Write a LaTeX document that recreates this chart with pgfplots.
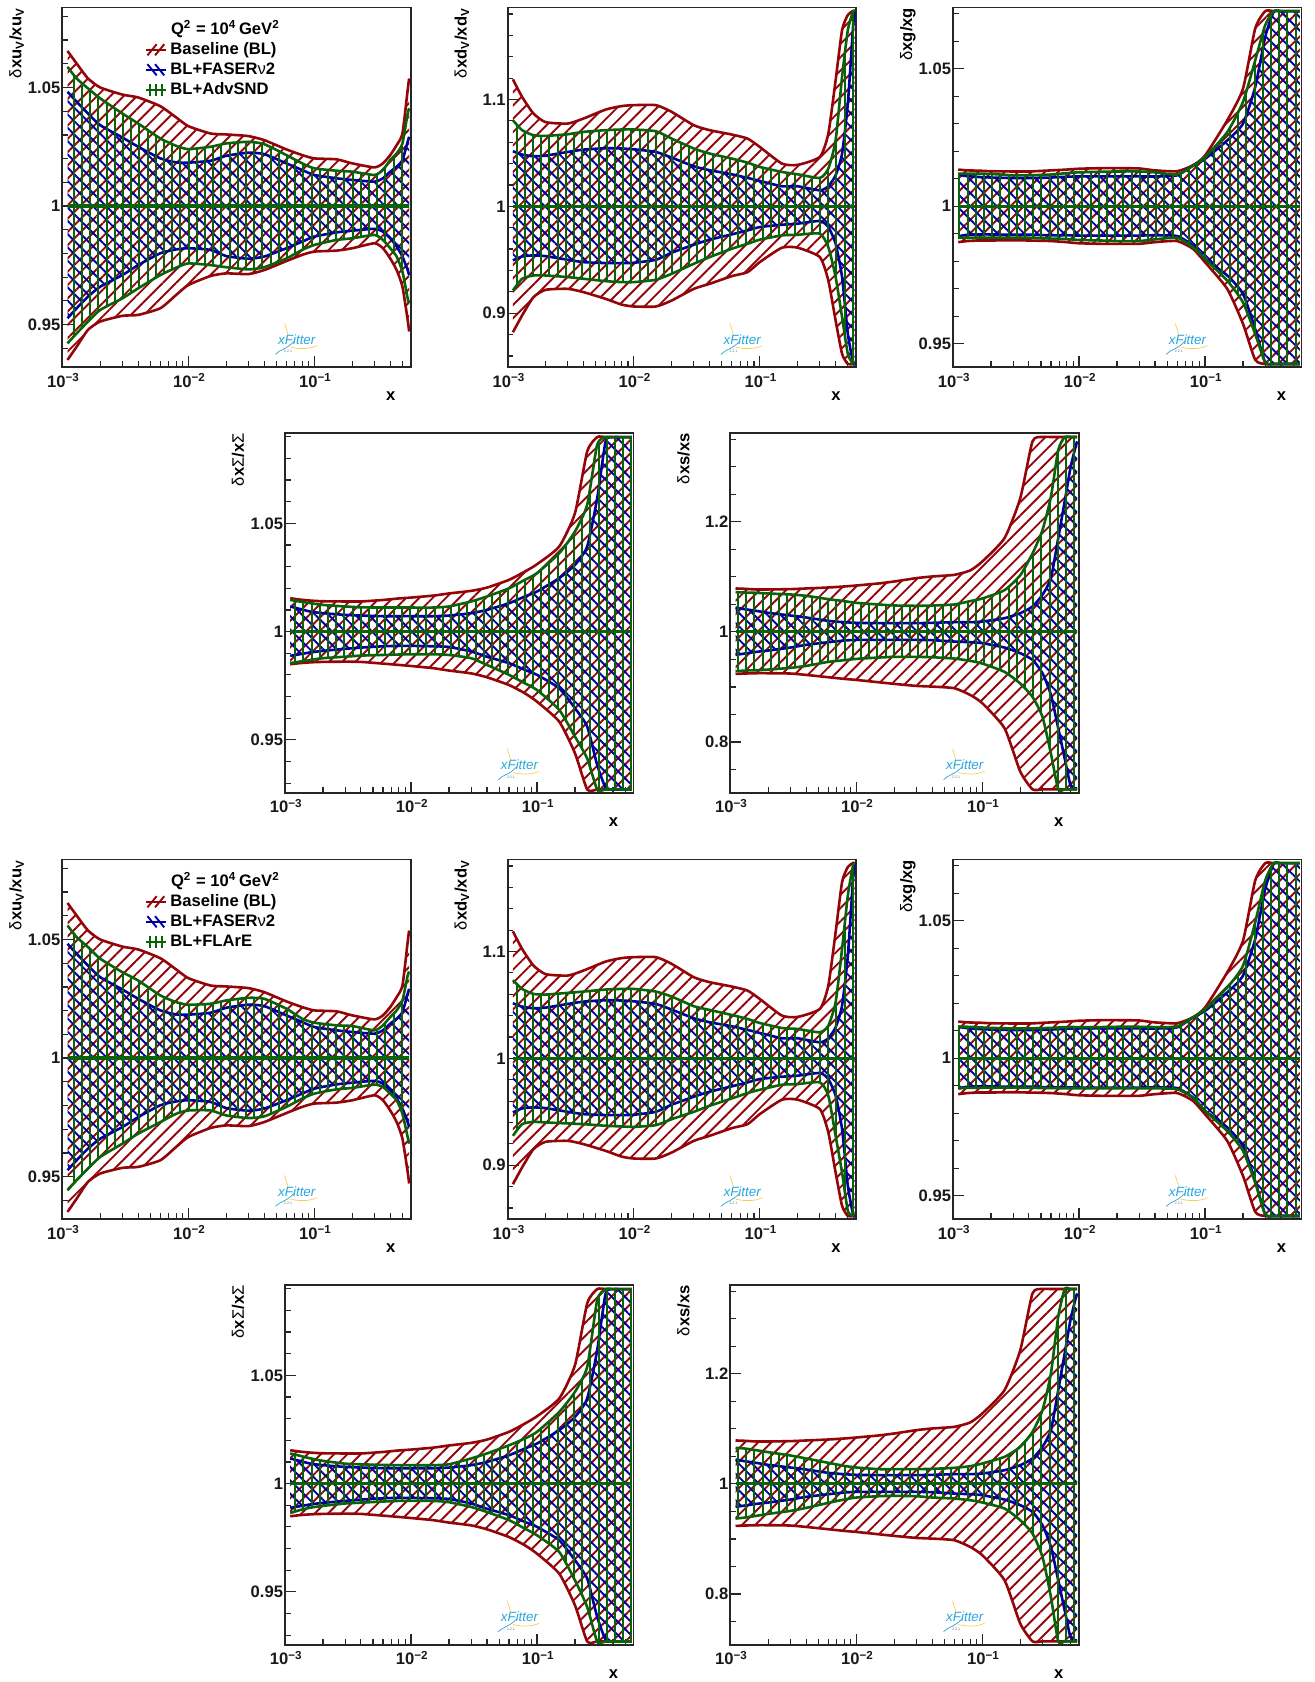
\documentclass[border=0pt]{standalone}
\usepackage{fontspec}
\setmainfont{Liberation Sans}
\usepackage{pgfplots}
\usepackage{pgfplotstable}
\pgfplotsset{compat=1.18}
\usetikzlibrary{patterns.meta}
\definecolor{cr}{rgb}{0.58,0.02,0.04}
\definecolor{cb}{rgb}{0.0,0.0,0.63}
\definecolor{cg}{rgb}{0.04,0.39,0.04}
\definecolor{clogo}{rgb}{0.16,0.65,0.87}
\definecolor{clogy}{rgb}{0.98,0.80,0.30}

\pgfplotstableread{
x ru rd bu bd gu gd fu fd
0.0011 1.0654 0.9351 1.0482 0.9527 1.0587 0.9421 1.0559 0.9442
0.0013 1.0601 0.9407 1.0440 0.9569 1.0538 0.9463 1.0510 0.9485
0.0016 1.0538 0.9478 1.0390 0.9618 1.0496 0.9513 1.0468 0.9534
0.002 1.0500 0.9513 1.0341 0.9660 1.0454 0.9562 1.0419 0.9583
0.003 1.0470 0.9537 1.0289 0.9709 1.0390 0.9611 1.0362 0.9639
0.004 1.0458 0.9541 1.0250 0.9751 1.0348 0.9653 1.0327 0.9681
0.006 1.0421 0.9569 1.0201 0.9801 1.0285 0.9709 1.0264 0.9730
0.008 1.0374 0.9625 1.0184 0.9817 1.0254 0.9740 1.0236 0.9765
0.01 1.0337 0.9667 1.0183 0.9822 1.0240 0.9758 1.0225 0.9779
0.015 1.0306 0.9705 1.0191 0.9815 1.0250 0.9751 1.0229 0.9779
0.02 1.0302 0.9716 1.0212 0.9789 1.0264 0.9742 1.0243 0.9758
0.03 1.0295 0.9713 1.0225 0.9778 1.0271 0.9733 1.0254 0.9747
0.04 1.0278 0.9730 1.0219 0.9787 1.0261 0.9742 1.0250 0.9754
0.06 1.0239 0.9768 1.0180 0.9822 1.0215 0.9779 1.0208 0.9794
0.08 1.0215 0.9794 1.0152 0.9850 1.0180 0.9815 1.0166 0.9829
0.1 1.0201 0.9808 1.0131 0.9871 1.0159 0.9836 1.0149 0.9850
0.15 1.0197 0.9812 1.0117 0.9889 1.0149 0.9857 1.0138 0.9868
0.2 1.0180 0.9822 1.0110 0.9896 1.0145 0.9864 1.0135 0.9874
0.3 1.0163 0.9843 1.0103 0.9904 1.0131 0.9878 1.0117 0.9888
0.35 1.0180 0.9822 1.0117 0.9892 1.0152 0.9857 1.0138 0.9878
0.4 1.0215 0.9779 1.0145 0.9864 1.0194 0.9822 1.0173 0.9850
0.45 1.0257 0.9730 1.0166 0.9829 1.0222 0.9787 1.0201 0.9822
0.5 1.0306 0.9660 1.0194 0.9787 1.0264 0.9723 1.0243 0.9765
0.55 1.0489 0.9520 1.0271 0.9730 1.0390 0.9611 1.0348 0.9667
0.565 1.0538 0.9471 1.0292 0.9709 1.0412 0.9590 1.0365 0.9639
}\tabA

\pgfplotstableread{
x ru rd bu bd gu gd fu fd
0.0011 1.1188 0.8822 1.0516 0.9494 1.0806 0.9213 1.0731 0.9275
0.0013 1.1025 0.8978 1.0484 0.9531 1.0713 0.9322 1.0650 0.9384
0.0016 1.0869 0.9150 1.0469 0.9541 1.0666 0.9353 1.0603 0.9406
0.002 1.0788 0.9219 1.0475 0.9534 1.0659 0.9353 1.0597 0.9400
0.003 1.0775 0.9228 1.0509 0.9500 1.0675 0.9338 1.0613 0.9391
0.004 1.0822 0.9197 1.0531 0.9478 1.0697 0.9322 1.0625 0.9384
0.006 1.0906 0.9134 1.0544 0.9469 1.0713 0.9300 1.0644 0.9369
0.008 1.0938 0.9081 1.0541 0.9469 1.0719 0.9291 1.0650 0.9363
0.01 1.0947 0.9063 1.0534 0.9472 1.0719 0.9291 1.0650 0.9359
0.015 1.0947 0.9063 1.0509 0.9500 1.0703 0.9313 1.0625 0.9375
0.02 1.0884 0.9119 1.0456 0.9566 1.0634 0.9369 1.0578 0.9431
0.03 1.0759 0.9228 1.0375 0.9641 1.0541 0.9463 1.0488 0.9500
0.04 1.0713 0.9275 1.0338 0.9688 1.0494 0.9525 1.0453 0.9556
0.06 1.0672 0.9347 1.0300 0.9738 1.0447 0.9603 1.0406 0.9625
0.08 1.0634 0.9384 1.0266 0.9775 1.0409 0.9650 1.0369 0.9675
0.1 1.0556 0.9478 1.0238 0.9806 1.0369 0.9688 1.0331 0.9706
0.15 1.0400 0.9613 1.0188 0.9828 1.0322 0.9728 1.0284 0.9753
0.2 1.0388 0.9613 1.0188 0.9838 1.0300 0.9734 1.0275 0.9759
0.3 1.0463 0.9525 1.0150 0.9863 1.0266 0.9744 1.0244 0.9775
0.35 1.0681 0.9306 1.0188 0.9806 1.0353 0.9619 1.0306 0.9650
0.4 1.1181 0.8931 1.0291 0.9650 1.0619 0.9338 1.0525 0.9275
0.45 1.1650 0.8619 1.0494 0.9338 1.1213 0.8963 1.1025 0.8931
0.5 1.1791 0.8525 1.0963 0.8806 1.1650 0.8619 1.1525 0.8572
0.55 1.1828 0.8525 1.1681 0.8541 1.1822 0.8525 1.1806 0.8531
0.565 1.1828 0.8525 1.1822 0.8525 1.1822 0.8525 1.1822 0.8525
}\tabB

\pgfplotstableread{
x ru rd bu bd gu gd fu fd
0.0011 1.0133 0.9869 1.0114 0.9890 1.0118 0.9885 1.0115 0.9890
0.0013 1.0130 0.9873 1.0109 0.9896 1.0118 0.9885 1.0114 0.9892
0.0016 1.0129 0.9875 1.0106 0.9897 1.0118 0.9885 1.0112 0.9892
0.002 1.0127 0.9875 1.0104 0.9897 1.0117 0.9885 1.0110 0.9893
0.003 1.0126 0.9876 1.0102 0.9896 1.0112 0.9885 1.0108 0.9893
0.004 1.0126 0.9875 1.0102 0.9896 1.0112 0.9885 1.0108 0.9892
0.006 1.0130 0.9873 1.0104 0.9894 1.0115 0.9882 1.0110 0.9891
0.008 1.0133 0.9869 1.0107 0.9894 1.0120 0.9880 1.0113 0.9890
0.01 1.0136 0.9865 1.0108 0.9893 1.0123 0.9877 1.0113 0.9890
0.015 1.0138 0.9863 1.0108 0.9893 1.0125 0.9875 1.0113 0.9890
0.02 1.0138 0.9863 1.0108 0.9893 1.0126 0.9873 1.0114 0.9890
0.03 1.0137 0.9863 1.0108 0.9893 1.0126 0.9873 1.0114 0.9890
0.04 1.0130 0.9869 1.0108 0.9894 1.0123 0.9879 1.0113 0.9890
0.06 1.0127 0.9873 1.0112 0.9891 1.0115 0.9885 1.0115 0.9887
0.08 1.0148 0.9845 1.0148 0.9857 1.0146 0.9851 1.0148 0.9857
0.1 1.0184 0.9796 1.0172 0.9808 1.0178 0.9808 1.0178 0.9808
0.15 1.0312 0.9699 1.0239 0.9748 1.0269 0.9729 1.0257 0.9735
0.2 1.0427 0.9572 1.0300 0.9681 1.0379 0.9650 1.0336 0.9663
0.25 1.0646 0.9441 1.0433 0.9553 1.0530 0.9535 1.0494 0.9547
0.3 1.0709 0.9426 1.0615 0.9432 1.0658 0.9432 1.0646 0.9432
0.35 1.0709 0.9426 1.0706 0.9426 1.0709 0.9426 1.0709 0.9426
0.4 1.0709 0.9426 1.0709 0.9426 1.0709 0.9426 1.0709 0.9426
0.45 1.0709 0.9426 1.0709 0.9426 1.0709 0.9426 1.0709 0.9426
0.5 1.0709 0.9426 1.0709 0.9426 1.0709 0.9426 1.0709 0.9426
0.55 1.0709 0.9426 1.0709 0.9426 1.0709 0.9426 1.0709 0.9426
0.565 1.0709 0.9426 1.0709 0.9426 1.0709 0.9426 1.0709 0.9426
}\tabC

\pgfplotstableread{
x ru rd bu bd gu gd fu fd
0.0011 1.0154 0.9849 1.0116 0.9888 1.0146 0.9854 1.0139 0.9864
0.0013 1.0148 0.9854 1.0105 0.9895 1.0139 0.9861 1.0129 0.9877
0.0016 1.0143 0.9858 1.0092 0.9904 1.0131 0.9869 1.0116 0.9889
0.002 1.0140 0.9860 1.0085 0.9911 1.0123 0.9877 1.0105 0.9897
0.003 1.0139 0.9861 1.0077 0.9920 1.0116 0.9884 1.0092 0.9908
0.004 1.0139 0.9860 1.0074 0.9926 1.0112 0.9889 1.0089 0.9912
0.006 1.0146 0.9852 1.0071 0.9932 1.0111 0.9892 1.0086 0.9917
0.008 1.0153 0.9846 1.0071 0.9934 1.0111 0.9894 1.0085 0.9920
0.01 1.0157 0.9841 1.0071 0.9934 1.0111 0.9895 1.0085 0.9920
0.015 1.0166 0.9831 1.0071 0.9932 1.0111 0.9895 1.0085 0.9920
0.02 1.0176 0.9820 1.0074 0.9929 1.0116 0.9892 1.0089 0.9914
0.03 1.0188 0.9807 1.0085 0.9908 1.0139 0.9877 1.0116 0.9892
0.04 1.0203 0.9789 1.0100 0.9884 1.0162 0.9846 1.0139 0.9869
0.06 1.0239 0.9753 1.0131 0.9854 1.0200 0.9800 1.0177 0.9831
0.08 1.0277 0.9715 1.0162 0.9823 1.0239 0.9761 1.0208 0.9792
0.1 1.0311 0.9676 1.0185 0.9800 1.0270 0.9730 1.0239 0.9761
0.15 1.0393 0.9584 1.0247 0.9738 1.0362 0.9638 1.0331 0.9684
0.2 1.0547 0.9438 1.0308 0.9646 1.0462 0.9515 1.0424 0.9553
0.25 1.0832 0.9271 1.0393 0.9561 1.0586 0.9414 1.0539 0.9430
0.3 1.0898 0.9271 1.0616 0.9384 1.0863 0.9271 1.0847 0.9271
0.35 1.0898 0.9271 1.0878 0.9279 1.0898 0.9271 1.0898 0.9271
0.4 1.0898 0.9271 1.0898 0.9271 1.0898 0.9271 1.0898 0.9271
0.45 1.0898 0.9271 1.0898 0.9271 1.0898 0.9271 1.0898 0.9271
0.5 1.0898 0.9271 1.0898 0.9271 1.0898 0.9271 1.0898 0.9271
0.55 1.0898 0.9271 1.0898 0.9271 1.0898 0.9271 1.0898 0.9271
0.565 1.0898 0.9271 1.0898 0.9271 1.0898 0.9271 1.0898 0.9271
}\tabD

\pgfplotstableread{
x ru rd bu bd gu gd fu fd
0.0011 1.0788 0.9236 1.0442 0.9582 1.0721 0.9285 1.0654 0.9370
0.0013 1.0782 0.9243 1.0412 0.9606 1.0715 0.9297 1.0642 0.9388
0.0016 1.0770 0.9249 1.0382 0.9636 1.0709 0.9303 1.0612 0.9418
0.002 1.0770 0.9249 1.0345 0.9661 1.0697 0.9315 1.0576 0.9455
0.003 1.0776 0.9243 1.0297 0.9715 1.0679 0.9346 1.0515 0.9509
0.004 1.0788 0.9218 1.0261 0.9764 1.0654 0.9382 1.0461 0.9564
0.006 1.0806 0.9176 1.0200 0.9812 1.0594 0.9455 1.0382 0.9655
0.008 1.0824 0.9146 1.0176 0.9842 1.0558 0.9485 1.0327 0.9715
0.01 1.0842 0.9127 1.0164 0.9855 1.0527 0.9509 1.0297 0.9752
0.015 1.0879 0.9085 1.0158 0.9855 1.0497 0.9533 1.0267 0.9776
0.02 1.0915 0.9055 1.0158 0.9855 1.0479 0.9546 1.0267 0.9782
0.03 1.0976 0.9018 1.0158 0.9855 1.0473 0.9546 1.0267 0.9776
0.04 1.1006 0.9006 1.0164 0.9849 1.0479 0.9539 1.0273 0.9752
0.06 1.1036 0.8976 1.0176 0.9824 1.0497 0.9515 1.0291 0.9733
0.08 1.1115 0.8855 1.0176 0.9812 1.0558 0.9473 1.0321 0.9703
0.1 1.1279 0.8703 1.0188 0.9794 1.0606 0.9424 1.0370 0.9661
0.15 1.1703 0.8249 1.0248 0.9715 1.0758 0.9273 1.0491 0.9552
0.2 1.2430 0.7461 1.0339 0.9612 1.1030 0.9061 1.0673 0.9339
0.25 1.3460 0.7140 1.0461 0.9491 1.1424 0.8818 1.0945 0.9097
0.3 1.3539 0.7140 1.0673 0.9249 1.1848 0.8455 1.1339 0.8673
0.35 1.3539 0.7140 1.0976 0.8855 1.2454 0.7788 1.2006 0.7946
0.4 1.3539 0.7140 1.1703 0.8249 1.3303 0.7140 1.3036 0.7140
0.45 1.3539 0.7140 1.2369 0.7703 1.3539 0.7140 1.3539 0.7140
0.5 1.3539 0.7140 1.2975 0.7218 1.3539 0.7140 1.3539 0.7140
0.55 1.3539 0.7140 1.3369 0.7158 1.3539 0.7140 1.3539 0.7140
0.565 1.3539 0.7140 1.3460 0.7158 1.3539 0.7140 1.3539 0.7140
}\tabE

\newcommand{\fs}{\bfseries\fontsize{8.3}{9.5}\selectfont}
\tikzset{
 hr/.style={pattern={Lines[angle=45,distance=4.7pt,line width=0.95pt]},pattern color=cr},
 hb/.style={pattern={Lines[angle=-45,distance=4.7pt,line width=0.95pt]},pattern color=cb},
 hg/.style={pattern={Lines[angle=90,distance=4.1pt,line width=1.05pt]},pattern color=cg},
}
\newcount\polyi
\newcommand{\appendrow}[2]{%
 \pgfplotstablegetelem{\the\polyi}{x}\of{#1}\let\polyx\pgfplotsretval
 \pgfplotstablegetelem{\the\polyi}{#2}\of{#1}\let\polyy\pgfplotsretval
 \edef\polyresult{\polyresult (\polyx,\polyy)}}
\newcommand{\band}[4]{%
 \def\polyresult{}%
 \pgfplotstablegetrowsof{#2}\let\polyn\pgfplotsretval
 \polyi=0
 \loop \appendrow{#2}{#3}\advance\polyi by 1 \ifnum\polyi<\polyn\relax\repeat
 \polyi=\polyn\relax
 \loop \advance\polyi by -1 \appendrow{#2}{#4}\ifnum\polyi>0 \repeat
 \edef\polyplot{\noexpand\addplot[#1,draw=none,forget plot] coordinates {\polyresult};}\polyplot
}
\newcommand{\curve}[3]{\addplot[draw=#3,line width=1.3pt,smooth,tension=0.35,forget plot] table[x=x,y=#2]{#1};}
\newcommand{\bands}[3]{%
 \band{hr}{#1}{ru}{rd}\curve{#1}{ru}{cr}\curve{#1}{rd}{cr}
 \band{hb}{#1}{bu}{bd}\curve{#1}{bu}{cb}\curve{#1}{bd}{cb}
 \band{hg}{#1}{#2}{#3}\curve{#1}{#2}{cg}\curve{#1}{#3}{cg}
 \addplot[cg,line width=1.6pt,forget plot] coordinates {(0.0011,1) (0.565,1)};
}
\newcommand{\logomark}{%
 \node[text=clogo,font=\itshape\fontsize{6.7}{7}\selectfont,inner sep=0] at (rel axis cs:0.673,0.078) {xFitter};
 \node[text=black!55,font=\fontsize{1.8}{2}\selectfont,inner sep=0] at (rel axis cs:0.648,0.044) {2.2.1};
 \draw[clogo,line width=0.35pt] (rel axis cs:0.612,0.036) .. controls (rel axis cs:0.625,0.05) and (rel axis cs:0.645,0.05) .. (rel axis cs:0.665,0.072);
 \draw[clogy,line width=0.35pt] (rel axis cs:0.655,0.056) .. controls (rel axis cs:0.68,0.05) and (rel axis cs:0.71,0.05) .. (rel axis cs:0.73,0.06);
 \draw[clogy,line width=0.35pt] (rel axis cs:0.638,0.122) -- (rel axis cs:0.648,0.09);
}
\newcommand{\ylab}[1]{\node[xshift=-20.5pt,rotate=90,anchor=base east,font=\fs,inner sep=0pt] at (rel axis cs:0,1) {#1};}
\newcommand{\xlab}{\node[anchor=base,font=\fs,inner sep=0pt,xshift=-10pt,yshift=-16.8pt] at (rel axis cs:1,0) {x};}
\newcommand{\mydelta}{{\mdseries δ}}
% legend keys: a line crossed by the strokes of the hatch
\newcommand{\legimg}[2]{\addlegendimage{legend image code/.code={
   \draw[#1,line width=1pt] (0pt,0pt)--(9.9pt,0pt);
   #2
   \path (11.7pt,0pt);}}}
\newcommand{\qtitle}{\node[anchor=base west,font=\fs,inner sep=0pt] at (rel axis cs:0.311,0.925) {Q\textsuperscript{2} = 10\textsuperscript{4}\,GeV\textsuperscript{2}};}

\newcommand{\onepanel}[2]{%
 \begin{axis}[xmode=log, scale only axis, width=174.2pt, height=179.85pt,
  xmin=0.001, xmax=0.5815,
  xtick={0.001,0.01,0.1},
  xticklabels={10\textsuperscript{\textminus3},10\textsuperscript{\textminus2},10\textsuperscript{\textminus1}},
  minor xtick={0.002,0.003,0.004,0.005,0.006,0.007,0.008,0.009,0.02,0.03,0.04,0.05,0.06,0.07,0.08,0.09,0.2,0.3,0.4,0.5},
  xtick pos=bottom, ytick pos=left, tick align=inside,
  major tick length=5.5pt, minor tick length=2.9pt,
  tick style={line width=0.6pt,color=black!85},
  axis line style={line width=0.9pt,color=black!85},
  ticklabel style={font=\fs,text=black!90},
  yticklabel style={inner sep=0pt,xshift=-0.8pt},
  xticklabel style={inner sep=0pt,xshift=0.6pt,yshift=-3pt},
  legend style={at={(0.237,0.908)},anchor=north west,draw=none,fill=none,font=\fs,
    inner sep=0pt,outer sep=0pt,row sep=0.9pt,
    nodes={inner sep=0.4pt,text height=6.5pt,text depth=1.8pt}},
  legend cell align=left,
  #1]
  #2
 \end{axis}}

\newcommand{\panelA}[4]{%
 \onepanel{at={(31.15pt,#1)},ymin=0.9320,ymax=1.0837,
   ytick={0.95,1,1.05},yticklabels={0.95,1,1.05},
   minor ytick={0.94,0.96,0.97,0.98,0.99,1.01,1.02,1.03,1.04,1.06,1.07,1.08},
   extra description/.code={\logomark\qtitle\xlab\ylab{\mydelta xu\textsubscript{V}/xu\textsubscript{V}}},
   legend entries={Baseline (BL),BL+FASER{\mdseries ν}2,#4}}{%
  \legimg{cr}{\draw[cr,line width=0.95pt] (0.8pt,-2.8pt)--(5.4pt,2.8pt) (4.6pt,-2.8pt)--(9.2pt,2.8pt);}
  \legimg{cb}{\draw[cb,line width=0.95pt] (0.8pt,2.8pt)--(5.4pt,-2.8pt) (4.6pt,2.8pt)--(9.2pt,-2.8pt);}
  \legimg{cg}{\draw[cg,line width=1.05pt] (2.2pt,-3pt)--(2.2pt,3pt) (5.2pt,-3pt)--(5.2pt,3pt) (8.2pt,-3pt)--(8.2pt,3pt);}
  \bands{\tabA}{#2}{#3}}}
\newcommand{\panelB}[3]{%
 \onepanel{at={(253.85pt,#1)},ymin=0.8494,ymax=1.186,
   ytick={0.9,1,1.1},yticklabels={0.9,1,1.1},
   minor ytick={0.86,0.88,0.92,0.94,0.96,0.98,1.02,1.04,1.06,1.08,1.12,1.14,1.16,1.18},
   extra description/.code={\logomark\xlab\ylab{\mydelta xd\textsubscript{V}/xd\textsubscript{V}}}}{%
  \bands{\tabB}{#2}{#3}}}
\newcommand{\panelC}[3]{%
 \onepanel{at={(476.5pt,#1)},ymin=0.9414,ymax=1.0722,
   ytick={0.95,1,1.05},yticklabels={0.95,1,1.05},
   minor ytick={0.96,0.97,0.98,0.99,1.01,1.02,1.03,1.04,1.06,1.07},
   extra description/.code={\logomark\xlab\ylab{\mydelta xg/xg}}}{%
  \bands{\tabC}{#2}{#3}}}
\newcommand{\panelD}[3]{%
 \onepanel{at={(142.5pt,#1)},ymin=0.9256,ymax=1.0917,
   ytick={0.95,1,1.05},yticklabels={0.95,1,1.05},
   minor ytick={0.93,0.94,0.96,0.97,0.98,0.99,1.01,1.02,1.03,1.04,1.06,1.07,1.08,1.09},
   extra description/.code={\logomark\xlab\ylab{\mydelta x{\mdseries Σ}/x{\mdseries Σ}}}}{%
  \bands{\tabD}{#2}{#3}}}
\newcommand{\panelE}[3]{%
 \onepanel{at={(365.15pt,#1)},ymin=0.7079,ymax=1.3612,
   ytick={0.8,1,1.2},yticklabels={0.8,1,1.2},
   minor ytick={0.75,0.85,0.9,0.95,1.05,1.1,1.15,1.25,1.3,1.35},
   extra description/.code={\logomark\xlab\ylab{\mydelta xs/xs}}}{%
  \bands{\tabE}{#2}{#3}}}

\begin{document}
\begin{tikzpicture}
\path[use as bounding box] (0pt,0pt) rectangle (657pt,841pt);
\panelA{657.35pt}{gu}{gd}{BL+AdvSND}
\panelB{657.35pt}{gu}{gd}
\panelC{657.35pt}{gu}{gd}
\panelD{444.65pt}{gu}{gd}
\panelE{444.65pt}{gu}{gd}
\panelA{231.35pt}{fu}{fd}{BL+FLArE}
\panelB{231.35pt}{fu}{fd}
\panelC{231.35pt}{fu}{fd}
\panelD{18.65pt}{fu}{fd}
\panelE{18.65pt}{fu}{fd}
\end{tikzpicture}
\end{document}
